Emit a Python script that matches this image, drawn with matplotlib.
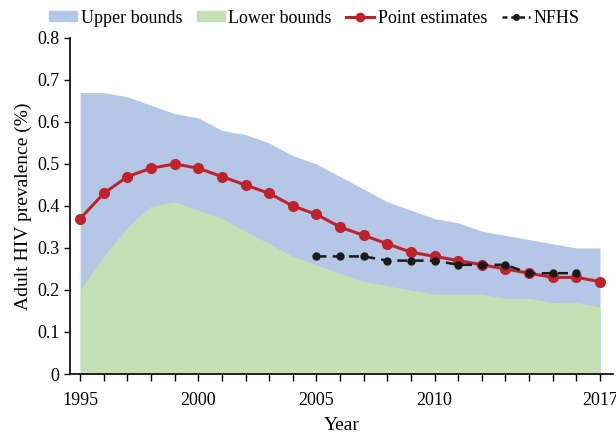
import matplotlib
matplotlib.use("Agg")
import matplotlib.pyplot as plt
from matplotlib.patches import Patch
from matplotlib.lines import Line2D

years = list(range(1995, 2018))
upper = [0.67, 0.67, 0.66, 0.64, 0.62, 0.61, 0.58, 0.57, 0.55, 0.52, 0.50, 0.47,
         0.44, 0.41, 0.39, 0.37, 0.36, 0.34, 0.33, 0.32, 0.31, 0.30, 0.30]
lower = [0.20, 0.28, 0.35, 0.40, 0.41, 0.39, 0.37, 0.34, 0.31, 0.28, 0.26, 0.24,
         0.22, 0.21, 0.20, 0.19, 0.19, 0.19, 0.18, 0.18, 0.17, 0.17, 0.16]
point = [0.37, 0.43, 0.47, 0.49, 0.50, 0.49, 0.47, 0.45, 0.43, 0.40, 0.38, 0.35,
         0.33, 0.31, 0.29, 0.28, 0.27, 0.26, 0.25, 0.24, 0.23, 0.23, 0.22]
nfhs_years = list(range(2005, 2017))
nfhs = [0.28, 0.28, 0.28, 0.27, 0.27, 0.27, 0.26, 0.26, 0.26, 0.24, 0.24, 0.24]
xtick_labels = [1995, 2000, 2005, 2010, 2017]
yticks = [0, 0.1, 0.2, 0.3, 0.4, 0.5, 0.6, 0.7, 0.8]

plt.rcParams['font.family'] = ['Liberation Serif', 'DejaVu Serif']
plt.rcParams['font.size'] = 13

blue = '#b4c7e7'
green = '#c5e0b4'
red = '#c0222a'

fig = plt.figure(figsize=(6.16, 4.36), dpi=100)
ax = fig.add_axes([70/616, 62/436, 543/616, 336/436])

ax.fill_between(years, 0, upper, color=blue, linewidth=0)
ax.fill_between(years, 0, lower, color=green, linewidth=0)
ax.plot(years, point, color=red, lw=2.2, marker='o', ms=7)
ax.plot(nfhs_years, nfhs, color='#1a1a1a', lw=1.8, ls=(0, (4, 2.5)), marker='o', ms=5)

ax.set_xlim(1994.57, 2017.55)
ax.set_ylim(0, 0.8)
ax.set_xticks(years, minor=True)
ax.set_xticks(xtick_labels)
ax.set_xticklabels([str(y) for y in xtick_labels])
ax.set_yticks(yticks)
ax.set_yticklabels(['0'] + [f'{v:.1f}' for v in yticks[1:]])
ax.tick_params(axis='x', which='both', direction='out', length=5, width=1, pad=8, labelsize=13)
ax.tick_params(axis='y', direction='out', length=4, width=1, labelsize=13)
for s in ['top', 'right']:
    ax.spines[s].set_visible(False)
for s in ['left', 'bottom']:
    ax.spines[s].set_linewidth(1.2)

ax.set_xlabel('Year', labelpad=6, fontsize=14)
ax.set_ylabel('Adult HIV prevalence (%)', fontsize=14, labelpad=4)

handles = [
    Patch(color=blue, label='Upper bounds'),
    Patch(color=green, label='Lower bounds'),
    Line2D([], [], color=red, lw=2.2, marker='o', ms=6, label='Point estimates'),
    Line2D([], [], color='#1a1a1a', lw=1.8, ls=(0, (2, 1.5)), marker='o', ms=4, label='NFHS'),
]
fig.legend(handles=handles, loc='upper center', bbox_to_anchor=(0.51, 1.015), ncol=4,
           frameon=False, handlelength=1.55, handletextpad=0.2, columnspacing=0.8,
           handleheight=0.5, fontsize=13)

fig.savefig('out.png', dpi=100)
